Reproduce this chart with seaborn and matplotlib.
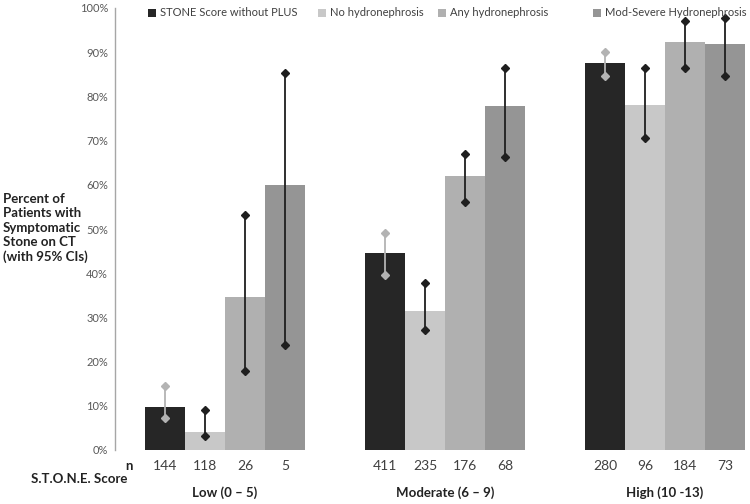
import matplotlib
matplotlib.use("Agg")
from matplotlib import pyplot as plt
from matplotlib.patches import Patch
import seaborn as sns
import pandas as pd

# risk groups and series
groups = ["Low (0 – 5)", "Moderate (6 – 9)", "High (10 -13)"]
series = ["STONE Score without PLUS", "No hydronephrosis",
          "Any hydronephrosis", "Mod-Severe Hydronephrosis"]
colors = ["#262626", "#c8c8c8", "#b0b0b0", "#959595"]
ci_colors = ["#b3b3b3", "#1f1f1f", "#1f1f1f", "#1f1f1f"]
legend_x = [148, 318, 438, 593]

# percent with symptomatic stone, one list per series (Low, Moderate, High)
pct = [
    [9.7, 44.5, 87.6],
    [4.1, 31.4, 78.0],
    [34.6, 62.0, 92.4],
    [60.0, 77.8, 91.8],
]
ci_low = [
    [7.3, 39.6, 84.6],
    [3.2, 27.1, 70.6],
    [17.9, 56.2, 86.4],
    [23.8, 66.3, 84.6],
]
ci_high = [
    [14.5, 49.0, 90.0],
    [9.0, 37.8, 86.4],
    [53.2, 67.0, 97.0],
    [85.3, 86.4, 97.8],
]
n_counts = [
    [144, 411, 280],
    [118, 235, 96],
    [26, 176, 184],
    [5, 68, 73],
]

rows = []
for s, name in enumerate(series):
    for g, grp in enumerate(groups):
        rows.append({"group": grp, "series": name, "pct": pct[s][g] / 100})
df = pd.DataFrame(rows)

sns.set_style("white")
plt.rcParams['font.family'] = ['Lato', 'DejaVu Sans']

fig = plt.figure(figsize=(7.5, 5.04), dpi=100)
ax = fig.add_axes([115 / 750, 54 / 504, 1 - 115 / 750, 442 / 504])

sns.barplot(data=df, x="group", y="pct", hue="series", order=groups,
            hue_order=series, palette=colors, saturation=1, width=160 / 220,
            gap=0, linewidth=0, legend=False, ax=ax)

# confidence intervals with diamond ends, and n under each bar
for s, cont in enumerate(ax.containers):
    for g, bar in enumerate(cont):
        x = bar.get_x() + bar.get_width() / 2
        ax.plot([x, x], [ci_low[s][g] / 100, ci_high[s][g] / 100],
                color=ci_colors[s], lw=1.3, marker="D", ms=4.2,
                solid_capstyle="butt", zorder=4)
        ax.text(x, -0.036, str(n_counts[s][g]), transform=ax.get_xaxis_transform(),
                ha="center", va="center", fontsize=10, color="#404040")

for g, grp in enumerate(groups):
    ax.text(g, -0.097, grp, transform=ax.get_xaxis_transform(), ha="center",
            va="center", fontsize=9.5, fontweight="bold", color="#222222")

ax.set_ylim(0, 1)
ax.set_xlim(-0.5, (750 - 225) / 220)
ax.set_yticks([i / 10 for i in range(11)])
ax.set_yticklabels([f"{i * 10}%" for i in range(11)], fontsize=8, color="#595959")
ax.tick_params(axis="y", length=0, pad=5)
ax.set_xticks([])
ax.set_xlabel("")
ax.set_ylabel("")
for side in ["top", "right", "bottom"]:
    ax.spines[side].set_visible(False)
ax.spines["left"].set_color("#a6a6a6")
ax.spines["left"].set_linewidth(1)

fig.text(129 / 750, 1 - 466 / 504, "n", ha="center", va="center",
         fontsize=9.5, fontweight="bold", color="#222222")
fig.text(127 / 750, 1 - 479 / 504, "S.T.O.N.E. Score", ha="right", va="center",
         fontsize=9.5, fontweight="bold", color="#222222")
fig.text(3 / 750, 1 - 228 / 504,
         "Percent of\nPatients with\nSymptomatic\nStone on CT\n(with 95% CIs)",
         ha="left", va="center", fontsize=9.5, fontweight="bold",
         color="#222222", linespacing=1.25)

for name, c, lx in zip(series, colors, legend_x):
    leg = fig.legend([Patch(facecolor=c, edgecolor="none")], [name],
                     loc="center left", bbox_to_anchor=(lx / 750, 1 - 13 / 504),
                     frameon=False, fontsize=8, handlelength=0.7, handleheight=0.7,
                     handletextpad=0.4, borderpad=0, borderaxespad=0,
                     labelcolor="#404040")

plt.savefig("out.png", dpi=100)
